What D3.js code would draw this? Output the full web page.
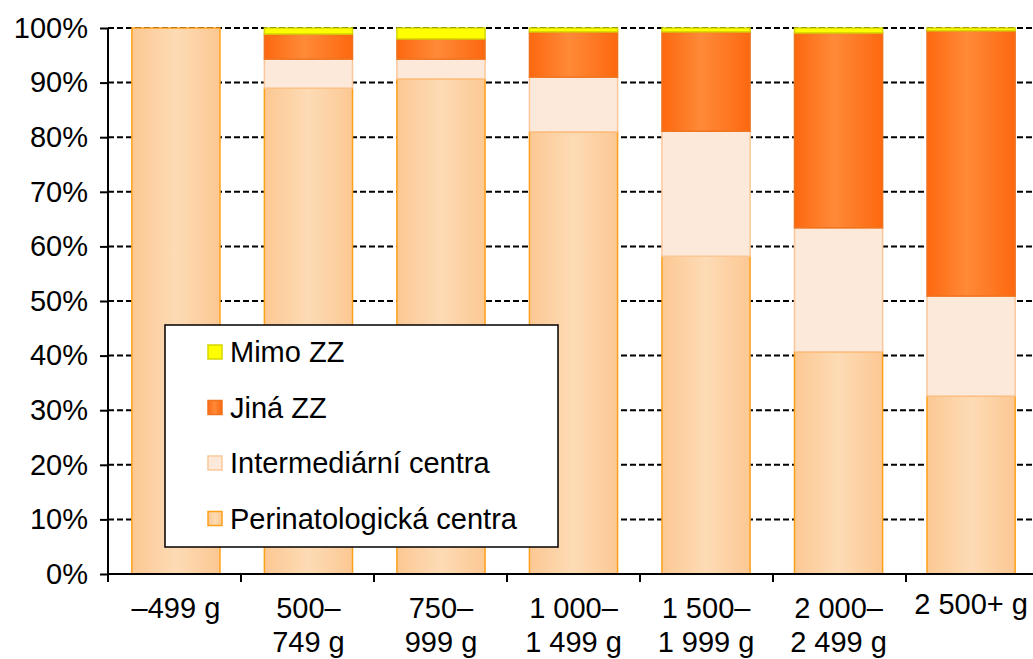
<!DOCTYPE html>
<html>
<head>
<meta charset="utf-8">
<script src="https://cdn.jsdelivr.net/npm/d3@7"></script>
<style>
  body { margin: 0; background: #fff; }
  svg { font-family: "Liberation Sans", Arial, sans-serif; }
</style>
</head>
<body>
<div id="chart"></div>
<script>
// categories (weight groups), two-line labels
var categories = ["c1", "c2", "c3", "c4", "c5", "c6", "c7"];
var catLabels = [["–499 g"], ["500–", "749 g"], ["750–", "999 g"], ["1 000–", "1 499 g"],
                 ["1 500–", "1 999 g"], ["2 000–", "2 499 g"], ["2 500+ g"]];

// shares in %
var perinat  = [100, 89.0, 90.7, 81.0, 58.2, 40.7, 32.6];
var intermed = [0,   5.3,  3.6,  10.0, 22.9, 22.7, 18.3];
var jina     = [0,   4.6,  3.7,  8.3,  18.2, 35.7, 48.6];
var mimo     = [0,   1.1,  2.0,  0.7,  0.7,  0.9,  0.5];

var yTicks = [0, 10, 20, 30, 40, 50, 60, 70, 80, 90, 100];
var seriesNames = ["Perinatologická centra", "Intermediární centra", "Jiná ZZ", "Mimo ZZ"];

var FS = 29;
var margin = {top: 28, left: 108},
    W = 1033, H = 659,
    width = 931,
    height = 546;

var svg = d3.select("#chart").append("svg")
    .attr("width", W).attr("height", H);

// gradients
var defs = svg.append("defs");
function grad(id, edge, mid, midPos) {
  var g = defs.append("linearGradient").attr("id", id)
    .attr("x1", "0").attr("x2", "1").attr("y1", "0").attr("y2", "0");
  g.append("stop").attr("offset", "0%").attr("stop-color", edge);
  g.append("stop").attr("offset", midPos || "50%").attr("stop-color", mid);
  g.append("stop").attr("offset", "100%").attr("stop-color", edge);
}
grad("gPer", "#fcc893", "#fddbb5", "50%");
grad("gInt", "#fde9da", "#fde9da");
grad("gJin", "#fd680f", "#ff8a38", "45%");
grad("gMim", "#ffff00", "#ffff00");

var styles = [
  {fill: "url(#gPer)", stroke: "#ffa019"},
  {fill: "url(#gInt)", stroke: "#fbc79a"},
  {fill: "url(#gJin)", stroke: "#ee7320"},
  {fill: "url(#gMim)", stroke: "#d6d600"}
];

var g = svg.append("g").attr("transform", "translate(" + margin.left + "," + margin.top + ")");

var x = d3.scaleBand().domain(categories).range([0, width]).paddingInner(0.335).paddingOuter(0.18);
var y = d3.scaleLinear().domain([0, 100]).range([height, 0]);

// gridlines
g.selectAll(".grid").data(yTicks.filter(function(d){ return d > 0; })).enter()
  .append("line")
  .attr("x1", 0).attr("x2", W - margin.left)
  .attr("y1", function(d){ return y(d); }).attr("y2", function(d){ return y(d); })
  .attr("stroke", "#000").attr("stroke-width", 2).attr("stroke-dasharray", "6,3");

// stacked data
var rows = categories.map(function(c, i) {
  return {cat: c, s0: perinat[i], s1: intermed[i], s2: jina[i], s3: mimo[i]};
});
var stack = d3.stack().keys(["s0", "s1", "s2", "s3"])(rows);

stack.forEach(function(layer, li) {
  g.append("g").selectAll("rect").data(layer.filter(function(d){ return d[1] - d[0] > 0; })).enter()
    .append("rect")
    .attr("x", function(d){ return x(d.data.cat); })
    .attr("width", x.bandwidth())
    .attr("y", function(d){ return y(d[1]); })
    .attr("height", function(d){ return y(d[0]) - y(d[1]); })
    .attr("fill", styles[li].fill)
    .attr("stroke", styles[li].stroke)
    .attr("stroke-width", 1.5);
});

// y axis
var yAxis = g.append("g").call(d3.axisLeft(y).tickValues(yTicks)
    .tickFormat(function(d){ return d + "%"; }).tickSize(8).tickPadding(12));
yAxis.select(".domain").attr("stroke-width", 2).attr("d", "M0," + height + "V0");
yAxis.selectAll(".tick line").attr("stroke-width", 2);
yAxis.selectAll("text").attr("font-size", FS).attr("fill", "#000")
  .attr("font-family", "Liberation Sans, Arial, sans-serif");

// x axis baseline and ticks at category boundaries
g.append("line").attr("x1", 0).attr("x2", W - margin.left)
  .attr("y1", height).attr("y2", height).attr("stroke", "#000").attr("stroke-width", 2);
var step = width / categories.length;
g.selectAll(".xt").data(categories).enter().append("line")
  .attr("x1", function(d, i){ return i * step; })
  .attr("x2", function(d, i){ return i * step; })
  .attr("y1", height).attr("y2", height + 8)
  .attr("stroke", "#000").attr("stroke-width", 2);

var xl = g.selectAll(".xl").data(categories).enter().append("text")
  .attr("text-anchor", "middle")
  .attr("font-size", FS)
  .attr("transform", function(d){ return "translate(" + (x(d) + x.bandwidth() / 2) + "," + (height + 44) + ")"; });
xl.each(function(d, i) {
  var t = d3.select(this);
  catLabels[i].forEach(function(line, k) {
    t.append("tspan").attr("x", 0).attr("dy", k === 0 ? (i === 6 ? -4 : 0) : 34).text(line);
  });
});

// legend
var lg = svg.append("g").attr("transform", "translate(165,325)");
lg.append("rect").attr("width", 393).attr("height", 222)
  .attr("fill", "#fff").attr("stroke", "#000").attr("stroke-width", 1.5);
var legendOrder = [3, 2, 1, 0];
legendOrder.forEach(function(si, k) {
  var yy = 27 + k * 55.5;
  lg.append("rect").attr("x", 43).attr("y", yy - 7).attr("width", 14).attr("height", 14)
    .attr("fill", styles[si].fill).attr("stroke", styles[si].stroke).attr("stroke-width", 1.5);
  lg.append("text").attr("x", 65).attr("y", yy + 10).attr("font-size", FS).text(seriesNames[si]);
});
</script>
</body>
</html>
